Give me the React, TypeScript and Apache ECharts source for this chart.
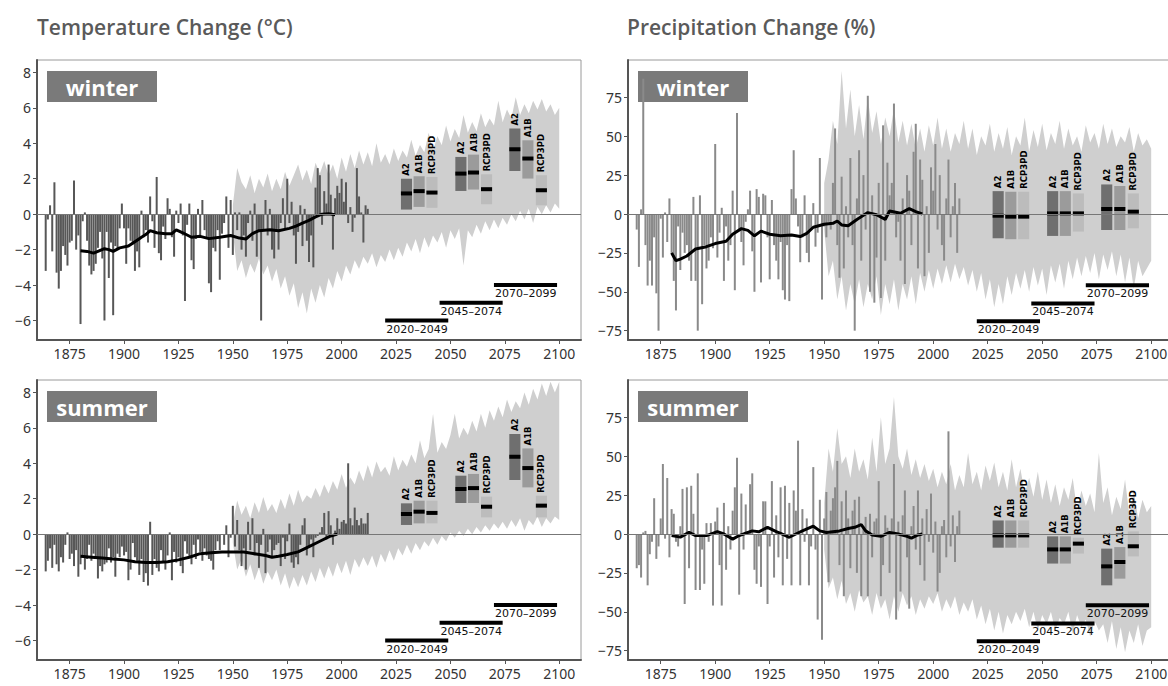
import React, { useEffect, useRef } from "react";
import * as echarts from "echarts";

// ---------- DATA ----------
const YEAR0 = 1864; // first observed year
const ENV_YEAR0 = 1950; // first year of scenario envelope
const ENV_STEP = 2;

const xTicks = [1875, 1900, 1925, 1950, 1975, 2000, 2025, 2050, 2075, 2100];
const tempTicks = [-6, -4, -2, 0, 2, 4, 6, 8];
const precTicks = [-75, -50, -25, 0, 25, 50, 75];

// observed anomalies 1864..2012
const winterTemp = [
  -3.2, -0.3, 0.5, -2.1, 1.8, -3.3, -4.2, -3.2, -1.8, -2.3,
  -2.9, -1.6, -1.5, 1.9, -2.0, -1.2, -6.2, -0.4, 0.1, -1.5,
  -2.9, -3.4, -3.2, -2.8, -1.9, -1.0, -2.5, -6.0, -1.0, -3.6,
  -1.6, -5.7, -1.8, -2.0, -0.8, 0.6, -0.8, -2.8, -0.8, -1.5,
  -1.7, -3.2, -2.1, -3.0, 0.2, -1.3, -0.9, -1.6, 1.0, -0.4,
  -1.9, 2.1, -2.2, -2.6, -0.7, -1.4, 0.9, 0.3, -1.3, -2.4,
  0.2, -0.5, 0.6, -1.2, -4.9, -0.6, 0.6, -2.6, -3.1, -1.4,
  0.3, -1.2, 0.8, -0.9, -1.4, -3.9, -4.4, -1.9, -2.1, -0.9,
  -3.7, -1.1, -0.5, 1.0, -1.9, 0.8, -2.3, 0.1, -0.9, 0.1,
  -2.0, -1.2, -2.4, -0.5, 0.2, -1.5, 0.6, -2.4, -1.0, -6.0,
  -0.9, 0.8, -1.2, 0.3, -2.0, -2.5, -1.0, -2.0, -0.5, 0.9,
  -0.8, 2.0, -0.5, 0.7, -1.2, -2.8, -1.0, 0.5, -1.8, 0.3,
  -1.5, -2.7, -1.2, -3.0, 1.5, 2.6, 2.2, -0.6, 1.3, 0.6,
  2.8, 1.1, -2.0, 0.9, 1.6, 1.2, 2.0, 0.7, 1.8, -0.5,
  0.4, -1.0, -0.2, 2.6, 1.0, 0.1, -1.6, 0.5, 0.3,
];
const summerTemp = [
  -2.1, -1.5, -0.8, -1.9, -0.6, -1.7, -2.1, -1.3, -1.6, -0.6,
  0.1, -1.4, -1.1, -1.8, -0.9, -2.4, -1.7, -1.2, -2.0, -1.4,
  -0.6, -1.5, -1.1, -1.4, -2.5, -1.8, -2.1, -1.7, -1.6, -0.8,
  -1.6, -1.3, -2.4, -1.1, -1.3, -0.7, -1.2, -1.0, -2.6, -2.0,
  -0.5, -1.3, -1.5, -2.3, -1.4, -2.7, -2.2, -2.9, 0.7, -2.3,
  -1.4, -1.9, -2.1, -0.9, -1.6, -2.0, -1.2, 0.1, -2.6, -1.0,
  -1.6, -1.3, -1.8, -2.2, -0.4, -1.1, -1.3, -1.7, -0.6, -1.4,
  -0.3, -1.0, -1.5, -0.8, -1.2, -1.4, -1.5, -2.0, -0.9, -0.4,
  -0.9, 0.0, -0.6, 0.5, -1.3, -0.2, 1.6, -0.7, 0.8, -0.9,
  -1.8, -0.8, -2.0, 0.7, -0.9, 0.9, -1.2, -0.5, -1.9, -0.6,
  0.3, -2.2, -1.0, -0.3, -1.3, -0.9, -0.6, -0.5, -1.8, -0.2,
  -1.4, -0.4, 0.6, -1.6, -1.9, -1.3, -1.7, -0.6, 0.5, 0.9,
  -1.2, -0.7, -0.3, -1.3, -0.2, -0.1, 0.1, 0.4, 1.2, -0.3,
  1.3, 0.5, -0.6, 0.2, 0.9, 0.3, 0.7, 0.8, 0.6, 4.0,
  0.9, 0.5, 1.5, 0.8, 0.5, 0.9, 0.6, 0.6, 1.2,
];
const winterPrec = [
  -10, -34, 3, 87, -20, -46, -30, -46, -15, -51,
  -75, -3, -28, 1, -18, 10, -25, -43, -62, -8,
  -36, -12, -25, -20, -30, -43, 11, -43, -75, 12,
  -58, -20, -35, -30, -15, -22, 45, -28, -12, 4,
  -43, -8, -30, -20, 15, -49, 65, -10, -18, -33,
  -5, 3, 15, -24, -50, 16, 11, -44, 13, 12,
  -15, -42, 9, -20, -30, -42, -18, -49, -55, -20,
  -56, 16, 41, 10, -8, -31, -15, 12, -25, -31,
  -10, 7, -21, -12, 36, -55, -8, -15, -5, -10,
  20, 55, -20, -41, 24, -35, 5, -15, 36, -20,
  -75, 10, 41, -30, 25, -10, 76, -50, 12, -57,
  -28, 20, -54, 57, -30, 33, 12, 20, 71, -15,
  -5, -30, 10, -45, 25, 15, -20, 40, 58, -35,
  35, 22, -40, 5, -25, 30, 15, 45, -10, 25,
  -20, -30, 10, 35, -15, 5, 20, -25, 10,
];
const summerPrec = [
  -22, -20, -28, 1, 2, -33, -13, -5, 23, -16,
  -8, 10, 45, -3, 36, -15, 16, 13, -5, -8,
  5, 29, -45, 30, -22, 31, 13, -36, 39, -36,
  -10, -32, 7, -5, 7, -46, 8, 17, -20, -46,
  20, -23, 5, -10, 15, 30, 49, -39, 26, -10,
  19, 0, 32, 39, -23, -32, -8, -34, 21, 21,
  -45, -8, 34, -28, 12, -15, 30, -33, 31, -16,
  20, -33, 28, 15, 60, -33, 16, -5, 10, -33,
  -8, 43, -10, -55, 22, -68, 10, 27, -31, 15,
  23, 30, 47, -20, 21, -40, 28, 10, -22, 15,
  22, -25, 24, -40, 5, 11, -40, 13, -15, 8,
  10, 34, -40, -20, 12, 4, -25, 10, 45, -55,
  8, -37, 12, 28, -15, -48, 5, 18, -10, 28,
  -20, 10, -30, 16, -5, 26, -12, 8, -37, -25,
  5, 9, -15, 66, -8, 12, -18, 5, 15,
];

// 30-year running means [year, value]
const winterTempSmooth = [
  [1880, -2.07], [1883, -2.1], [1886, -2.2], [1888, -2.1], [1891, -1.95], [1893, -2.0],
  [1895, -2.1], [1898, -1.9], [1902, -1.8], [1905, -1.55], [1908, -1.3], [1910, -1.15],
  [1912, -0.93], [1915, -1.05], [1919, -1.1], [1922, -1.1], [1924, -0.88], [1927, -1.05],
  [1931, -1.3], [1935, -1.25], [1939, -1.38], [1944, -1.3], [1949, -1.2], [1953, -1.35],
  [1956, -1.4], [1959, -1.1], [1962, -0.93], [1967, -0.88], [1971, -0.93], [1976, -0.8],
  [1979, -0.67], [1982, -0.5], [1985, -0.35], [1988, -0.15], [1991, 0.0], [1994, 0.02], [1997, -0.03],
];
const summerTempSmooth = [
  [1880, -1.25], [1885, -1.3], [1890, -1.35], [1895, -1.4], [1900, -1.45], [1905, -1.55],
  [1910, -1.6], [1915, -1.6], [1920, -1.55], [1925, -1.45], [1930, -1.3], [1935, -1.1],
  [1940, -1.05], [1945, -1.0], [1950, -1.0], [1955, -1.0], [1960, -1.1], [1965, -1.2],
  [1968, -1.3], [1971, -1.25], [1975, -1.15], [1980, -1.0], [1985, -0.7], [1990, -0.4],
  [1995, -0.1], [1998, 0.0],
];
const winterPrecSmooth = [
  [1880, -25], [1882, -30], [1884, -29], [1887, -27], [1891, -22.5], [1896, -21], [1900, -19],
  [1905, -17.5], [1908, -13], [1912, -9.4], [1915, -10.5], [1918, -14], [1921, -11], [1925, -13],
  [1930, -14], [1935, -13.5], [1939, -14.5], [1942, -12.5], [1945, -8.5], [1950, -6.6], [1954, -6],
  [1956, -4.5], [1958, -7], [1961, -7.5], [1965, -3.5], [1970, 0.9], [1974, -0.5], [1978, -3.5],
  [1980, 1.9], [1985, 0.5], [1989, 3.5], [1992, 1.5], [1995, 0],
];
const summerPrecSmooth = [
  [1880, -1], [1884, -2], [1888, 1], [1891, -1], [1896, -1], [1901, 1.5], [1904, 0], [1908, -3.3],
  [1911, -1], [1914, 0.5], [1917, 2], [1920, 1.4], [1924, 4.3], [1928, 1.5], [1930, 0.4], [1934, -2.1],
  [1937, 0], [1940, 2], [1945, 5], [1948, 2], [1951, 1], [1957, 2], [1961, 3.5], [1964, 4.3],
  [1967, 6], [1969, 2], [1972, -0.6], [1976, -1.5], [1980, 1], [1984, 0], [1988, -1.5],
  [1990, -2.6], [1993, -0.6], [1995, 0],
];

// scenario envelope 1950..2100 every 2 years
const winterTempUpper = [
  0.5, 2.6, 1.8, 1.4, 2.2, 1.2, 2.0, 1.5, 2.3, 1.3,
  2.0, 1.4, 2.4, 1.6, 2.2, 2.8, 1.9, 2.5, 1.7, 2.9,
  2.3, 3.0, 2.2, 2.8, 2.0, 3.2, 2.4, 3.4, 2.6, 3.6,
  2.8, 3.5, 2.7, 4.0, 2.9, 3.4, 2.8, 3.7, 3.0, 3.6,
  3.2, 4.2, 3.3, 3.9, 3.5, 4.6, 3.6, 4.4, 3.9, 5.0,
  4.1, 4.8, 4.3, 5.6, 4.6, 5.2, 4.7, 5.7, 4.9, 5.4,
  5.0, 6.4, 5.2, 5.9, 5.4, 6.6, 5.6, 6.2, 5.7, 6.4,
  5.9, 6.5, 5.8, 6.2, 5.6, 6.0,
];
const winterTempLower = [
  -1.0, -3.2, -2.6, -3.6, -2.8, -3.3, -2.5, -3.4, -2.9, -3.8,
  -3.1, -4.2, -3.5, -4.6, -3.9, -5.3, -4.4, -5.6, -4.2, -5.0,
  -4.0, -4.7, -3.6, -4.2, -3.2, -3.8, -2.9, -3.4, -2.6, -3.1,
  -2.4, -2.8, -2.2, -3.0, -2.3, -2.7, -2.0, -2.6, -1.9, -2.4,
  -1.6, -2.1, -1.4, -2.2, -1.3, -1.9, -1.2, -1.6, -1.0, -1.9,
  -0.9, -1.4, -0.8, -2.9, -0.9, -1.3, -0.6, -1.1, -0.4, -0.9,
  -0.3, -0.8, -0.2, -0.6, 0.0, -0.4, 0.2, -0.3, 0.3, -0.5,
  0.4, 0.0, 0.5, 0.1, 0.6, 0.3,
];
const summerTempUpper = [
  0.6, 1.9, 1.1, 1.6, 0.9, 1.8, 1.2, 2.1, 1.3, 1.7,
  1.2, 2.0, 1.4, 2.3, 1.6, 2.5, 1.8, 2.2, 2.0, 2.6,
  2.1, 2.8, 2.3, 3.0, 2.5, 3.4, 2.6, 3.2, 2.8, 3.6,
  3.0, 3.9, 3.2, 4.1, 3.5, 3.8, 3.3, 4.4, 3.6, 4.2,
  3.8, 4.5, 4.0, 5.3, 4.3, 4.8, 6.8, 4.6, 5.2, 4.8,
  5.6, 6.8, 5.4, 6.0, 5.6, 6.4, 5.8, 6.8, 6.0, 7.0,
  6.4, 7.2, 6.6, 7.6, 6.9, 7.5, 7.1, 8.0, 7.3, 8.2,
  7.6, 8.5, 7.8, 8.6, 8.0, 8.6,
];
const summerTempLower = [
  -0.5, -2.0, -1.4, -2.4, -1.7, -2.6, -1.9, -2.8, -2.1, -2.6,
  -2.0, -2.9, -2.2, -3.1, -2.4, -3.0, -2.3, -2.9, -2.1, -2.7,
  -1.9, -2.5, -1.8, -2.4, -1.6, -2.2, -1.5, -2.3, -1.4, -1.9,
  -1.3, -1.8, -1.2, -1.9, -1.1, -1.6, -0.9, -1.5, -0.8, -1.2,
  -0.6, -1.1, -0.5, -0.9, -0.4, -0.7, -0.2, -0.6, -0.1, -0.4,
  0.1, -0.2, 0.2, -0.1, 0.3, 0.0, 0.4, 0.1, 0.5, 0.2,
  0.6, 0.3, 0.7, 0.3, 0.8, 0.4, 0.9, 0.2, 0.8, 0.5,
  1.0, 0.4, 0.9, 0.6, 1.0, 0.8,
];
const winterPrecUpper = [
  20, 35, 60, 45, 92, 55, 80, 50, 70, 48,
  75, 52, 66, 45, 62, 50, 68, 46, 60, 44,
  58, 42, 55, 40, 57, 44, 62, 42, 55, 40,
  52, 45, 60, 42, 55, 38, 50, 44, 58, 40,
  52, 42, 56, 38, 50, 44, 62, 40, 54, 43,
  58, 41, 52, 45, 60, 42, 55, 44, 50, 40,
  57, 46, 52, 42, 58, 45, 55, 43, 50, 46,
  56, 40, 52, 44, 48, 42,
];
const winterPrecLower = [
  -10, -40, -30, -55, -40, -62, -45, -58, -42, -60,
  -45, -55, -40, -65, -45, -58, -42, -62, -45, -55,
  -40, -58, -38, -50, -36, -48, -35, -45, -33, -44,
  -32, -42, -34, -46, -36, -50, -38, -55, -42, -60,
  -45, -58, -40, -52, -38, -48, -36, -50, -34, -46,
  -35, -52, -33, -44, -32, -48, -30, -42, -28, -40,
  -27, -38, -25, -42, -26, -36, -24, -40, -26, -44,
  -28, -48, -30, -40, -35, -30,
];
const summerPrecUpper = [
  20, 55, 40, 68, 45, 50, 36, 55, 40, 48,
  35, 62, 40, 75, 45, 55, 88, 50, 42, 55,
  38, 48, 36, 45, 34, 42, 30, 40, 32, 45,
  28, 38, 30, 52, 32, 40, 28, 44, 34, 46,
  30, 40, 28, 48, 30, 42, 26, 36, 24, 40,
  22, 35, 20, 32, 18, 30, 22, 36, 15, 28,
  18, 26, 14, 52, 20, 30, 12, 24, 16, 35,
  12, 28, 10, 22, 14, 18,
];
const summerPrecLower = [
  -10, -35, -28, -42, -30, -45, -38, -50, -36, -44,
  -40, -52, -38, -48, -42, -55, -40, -50, -38, -46,
  -40, -52, -42, -48, -40, -45, -38, -50, -42, -48,
  -40, -52, -44, -50, -42, -55, -46, -58, -48, -62,
  -50, -64, -52, -58, -50, -56, -48, -60, -50, -62,
  -52, -58, -50, -62, -54, -58, -50, -64, -52, -60,
  -55, -66, -56, -62, -58, -70, -56, -74, -60, -76,
  -62, -70, -58, -72, -62, -60,
];

// scenario boxes [low, high, median]: A2, A1B, RCP3PD for each period
const scenarioNames = ["A2", "A1B", "RCP3PD"];
const boxCenters = [2029.8, 2035.6, 2041.5, 2054.8, 2060.6, 2066.6, 2079.6, 2085.6, 2091.8];
const winterTempBoxes = [
  [0.26, 2.0, 1.17], [0.41, 2.14, 1.3], [0.36, 2.1, 1.22],
  [1.31, 3.23, 2.29], [1.39, 3.36, 2.35], [0.56, 2.25, 1.41],
  [2.44, 4.83, 3.66], [2.01, 4.17, 3.14], [0.5, 2.2, 1.35],
];
const summerTempBoxes = [
  [0.52, 1.74, 1.14], [0.61, 1.89, 1.27], [0.61, 1.89, 1.2],
  [1.76, 3.3, 2.55], [1.76, 3.4, 2.6], [0.95, 2.12, 1.55],
  [3.06, 5.65, 4.37], [2.64, 4.84, 3.73], [0.95, 2.17, 1.61],
];
const winterPrecBoxes = [
  [-15.6, 14.7, -1.1], [-16.2, 14.3, -1.7], [-16.2, 14.3, -1.7],
  [-14.1, 14.7, 0.4], [-14.1, 14.7, 0.4], [-11.3, 13.2, 0.4],
  [-10.3, 19, 3.2], [-10.3, 18, 3.2], [-9.2, 13.2, 1.5],
];
const summerPrecBoxes = [
  [-8.8, 8.7, -0.9], [-8.8, 8.7, -0.9], [-8.8, 8.7, -0.9],
  [-19, -1.5, -9.9], [-19, -1.5, -9.9], [-12.6, -2.4, -6.2],
  [-33, -9.4, -20.8], [-28.7, -8.4, -18], [-14.4, 1.7, -7.9],
];

// future periods
const periods = [[2020, 2049], [2045, 2074], [2070, 2099]];
const periodLabels = ["2020–2049", "2045–2074", "2070–2099"];
const tempPeriodY = [-6, -5, -4];
const precPeriodY = [-69, -57.5, -45.8];

// ---------- CHART ----------
const AX = "#555";
const boxColors = ["#6f6f6f", "#9b9b9b", "#bcbcbc"];
const ENV_COLOR = "#cfcfcf";

type Panel = {
  obs: number[]; smooth: number[][]; up: number[]; lo: number[]; boxes: number[][];
  periodY: number[]; barColor: string; yMin: number; yMax: number; ticks: number[];
  grid: { left: number; top: number; width: number; height: number }; season: string;
};

const panels: Panel[] = [
  { obs: winterTemp, smooth: winterTempSmooth, up: winterTempUpper, lo: winterTempLower, boxes: winterTempBoxes,
    periodY: tempPeriodY, barColor: "#575757", yMin: -7.1, yMax: 8.7, ticks: tempTicks,
    grid: { left: 37, top: 60, width: 544, height: 280 }, season: "winter" },
  { obs: winterPrec, smooth: winterPrecSmooth, up: winterPrecUpper, lo: winterPrecLower, boxes: winterPrecBoxes,
    periodY: precPeriodY, barColor: "#8a8a8a", yMin: -81, yMax: 99, ticks: precTicks,
    grid: { left: 628, top: 60, width: 545, height: 280 }, season: "winter" },
  { obs: summerTemp, smooth: summerTempSmooth, up: summerTempUpper, lo: summerTempLower, boxes: summerTempBoxes,
    periodY: tempPeriodY, barColor: "#575757", yMin: -7.1, yMax: 8.7, ticks: tempTicks,
    grid: { left: 37, top: 380, width: 544, height: 280 }, season: "summer" },
  { obs: summerPrec, smooth: summerPrecSmooth, up: summerPrecUpper, lo: summerPrecLower, boxes: summerPrecBoxes,
    periodY: precPeriodY, barColor: "#8a8a8a", yMin: -81, yMax: 99, ticks: precTicks,
    grid: { left: 628, top: 380, width: 545, height: 280 }, season: "summer" },
];

const fmtY = (v: number) => (v < 0 ? "−" + Math.abs(v) : String(v));
const fmtX = (v: number) => String(v);

function buildOption() {
  const grids: any[] = [];
  const xAxes: any[] = [];
  const yAxes: any[] = [];
  const series: any[] = [];
  const graphics: any[] = [];

  panels.forEach((p, i) => {
    grids.push({
      ...p.grid, show: true, borderColor: "#9a9a9a", borderWidth: 1,
      backgroundColor: "transparent", containLabel: false, outerBoundsMode: "none",
    });
    xAxes.push({
      type: "value", gridIndex: i, min: 1860, max: 2110,
      axisLine: { show: true, onZero: false, lineStyle: { color: AX, width: 2 } },
      axisTick: { show: true, customValues: xTicks, length: 4, lineStyle: { color: AX, width: 1 } },
      axisLabel: { customValues: xTicks, fontSize: 14, color: "#333", margin: 6, fontFamily: "Noto Sans", formatter: fmtX },
      splitLine: { show: false },
    });
    yAxes.push({
      type: "value", gridIndex: i, min: p.yMin, max: p.yMax,
      axisLine: { show: true, onZero: false, lineStyle: { color: AX, width: 2 } },
      axisTick: { show: true, customValues: p.ticks, length: 4, lineStyle: { color: AX, width: 1 } },
      axisLabel: { customValues: p.ticks, fontSize: 14, color: "#333", margin: 6, fontFamily: "Noto Sans", formatter: fmtY },
      splitLine: { show: false },
    });

    // envelope
    series.push({
      type: "custom", xAxisIndex: i, yAxisIndex: i, silent: true, z: 1,
      data: [[ENV_YEAR0, 0]],
      renderItem: (_params: any, api: any) => {
        const pts: number[][] = [];
        for (let k = 0; k < p.up.length; k++) pts.push(api.coord([ENV_YEAR0 + k * ENV_STEP, p.up[k]]));
        for (let k = p.lo.length - 1; k >= 0; k--) pts.push(api.coord([ENV_YEAR0 + k * ENV_STEP, p.lo[k]]));
        return { type: "polygon", shape: { points: pts }, style: { fill: ENV_COLOR } };
      },
    });

    // observed bars
    series.push({
      type: "bar", xAxisIndex: i, yAxisIndex: i, silent: true, z: 2,
      barWidth: 2,
      itemStyle: { color: p.barColor },
      data: p.obs.map((v, k) => [YEAR0 + k, v]),
      markLine: {
        silent: true, symbol: "none", label: { show: false },
        lineStyle: { color: "#777", width: 1, type: "solid" },
        data: [{ yAxis: 0 }],
      },
    });

    // smoothed mean
    series.push({
      type: "line", xAxisIndex: i, yAxisIndex: i, silent: true, z: 3,
      showSymbol: false, symbol: "none",
      lineStyle: { color: "#000", width: 3 },
      data: p.smooth,
    });

    // scenario boxes
    series.push({
      type: "custom", xAxisIndex: i, yAxisIndex: i, silent: true, z: 4,
      data: p.boxes.map((b, k) => [boxCenters[k], b[0], b[1], b[2], k % 3]),
      renderItem: (_params: any, api: any) => {
        const c = api.value(0), lo = api.value(1), hi = api.value(2), med = api.value(3), s = api.value(4);
        const w = 5.1;
        const a = api.coord([c - w / 2, hi]);
        const b = api.coord([c + w / 2, lo]);
        const m = api.coord([c, med]);
        return {
          type: "group",
          children: [
            { type: "rect", shape: { x: a[0], y: a[1], width: b[0] - a[0], height: b[1] - a[1] }, style: { fill: boxColors[s] } },
            { type: "rect", shape: { x: a[0], y: m[1] - 2, width: b[0] - a[0], height: 4 }, style: { fill: "#000" } },
            {
              type: "text", x: m[0], y: a[1] - 3, rotation: Math.PI / 2,
              style: { text: scenarioNames[s], fill: "#000", fontSize: 8.5, fontWeight: "bold", fontFamily: "DejaVu Sans", align: "left", verticalAlign: "middle" },
            },
          ],
        };
      },
    });

    // period bars
    series.push({
      type: "custom", xAxisIndex: i, yAxisIndex: i, silent: true, z: 4,
      data: periods.map((pr, k) => [pr[0], pr[1], p.periodY[k], k]),
      renderItem: (_params: any, api: any) => {
        const s = api.coord([api.value(0), api.value(2)]);
        const e = api.coord([api.value(1), api.value(2)]);
        const k = api.value(3);
        return {
          type: "group",
          children: [
            { type: "rect", shape: { x: s[0], y: s[1] - 2, width: e[0] - s[0], height: 4 }, style: { fill: "#000" } },
            {
              type: "text", x: s[0] + 1, y: s[1] + 3,
              style: { text: periodLabels[k], fill: "#111", fontSize: 11, fontFamily: "DejaVu Sans", align: "left", verticalAlign: "top" },
            },
          ],
        };
      },
    });

    // season label
    graphics.push({
      type: "group", x: p.grid.left + 10, y: p.grid.top + 11,
      children: [
        { type: "rect", z: -1, shape: { x: 0, y: 0, width: 110, height: 31 }, style: { fill: "#7a7a7a" } },
        {
          type: "text", z: -1, x: 55, y: 15.5,
          style: { text: p.season, fill: "#fff", fontSize: 22, fontWeight: 700, fontFamily: "Open Sans", align: "center", verticalAlign: "middle" },
        },
      ],
    });
  });

  graphics.push({
    type: "text", x: 37, y: 16,
    style: { text: "Temperature Change (°C)", fill: "#5a5a5a", fontSize: 21, fontWeight: 600, fontFamily: "Open Sans" },
  });
  graphics.push({
    type: "text", x: 627, y: 16,
    style: { text: "Precipitation Change (%)", fill: "#5a5a5a", fontSize: 21, fontWeight: 600, fontFamily: "Open Sans" },
  });

  return {
    animation: false,
    backgroundColor: "#fff",
    grid: grids,
    xAxis: xAxes,
    yAxis: yAxes,
    series,
    graphic: { elements: graphics },
  };
}

export default function App() {
  const ref = useRef<HTMLDivElement>(null);
  useEffect(() => {
    document.body.style.margin = "0";
    const chart = echarts.init(ref.current!, null, { renderer: "svg" });
    chart.setOption(buildOption() as any);
    return () => chart.dispose();
  }, []);
  return <div ref={ref} style={{ width: 1168, height: 686 }} />;
}
